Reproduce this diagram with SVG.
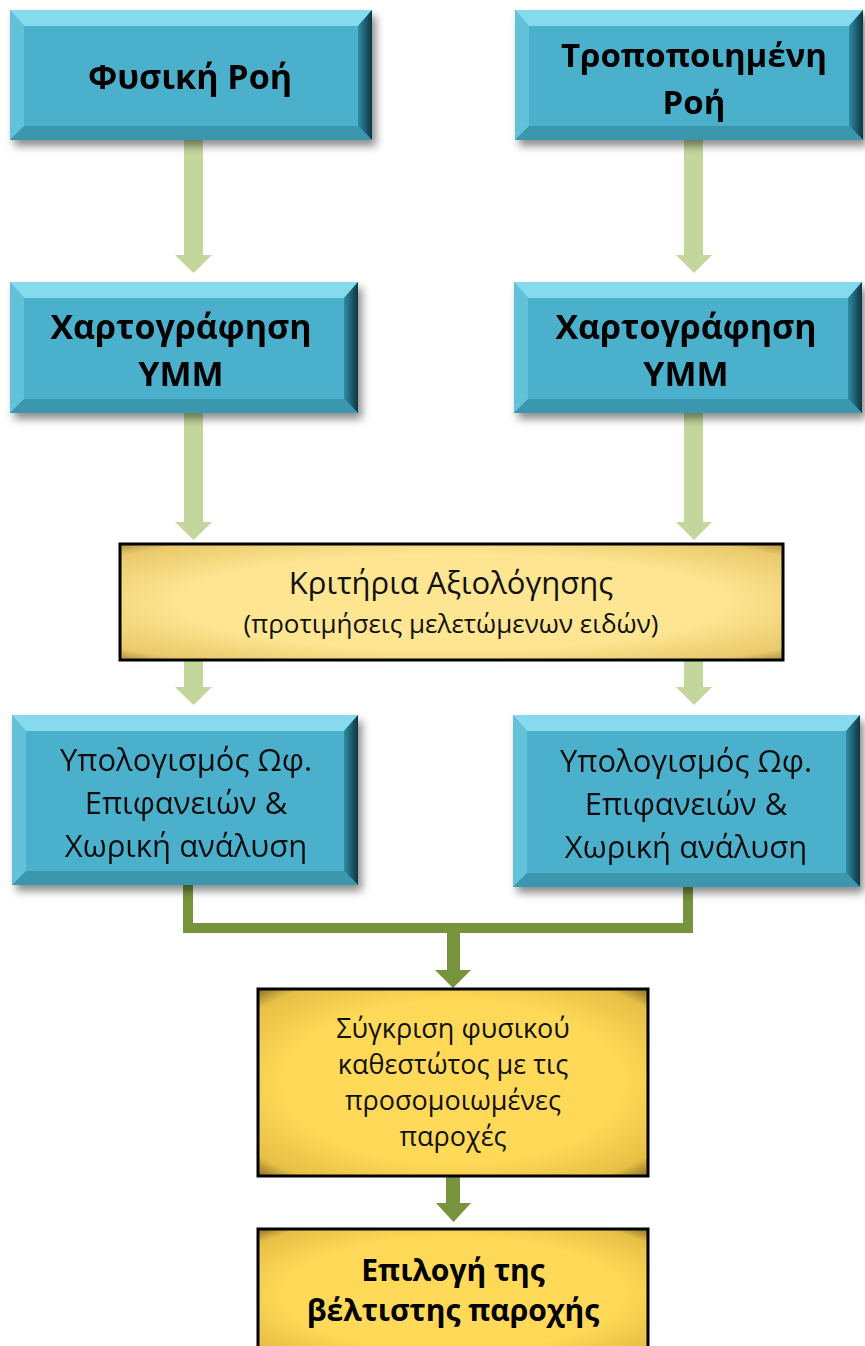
<svg xmlns="http://www.w3.org/2000/svg" width="865" height="1346" viewBox="0 0 865 1346">
<defs>
<style>
.face{fill:#4BB0CC}
.bt{fill:#86DAEE}
.bl{fill:#62C2DA}
.br{fill:url(#gr)}
.bb{fill:#3A97AE}
.tb{font-family:"Open Sans","Noto Sans",sans-serif;font-weight:bold;fill:#000;text-anchor:middle}
.tn{font-family:"Open Sans","Noto Sans",sans-serif;fill:#111;text-anchor:middle}
.la{fill:#C3D69B}
.da{fill:#77933C}
.dl{fill:none;stroke:#77933C;stroke-width:10}
.ybox{stroke:#000;stroke-width:3}
</style>
<linearGradient id="gr" x1="0" y1="0" x2="1" y2="0">
<stop offset="0" stop-color="#2F8CA3"/>
<stop offset="1" stop-color="#0E3440"/>
</linearGradient>
<radialGradient id="yg1" cx="0.5" cy="0.5" r="0.75">
<stop offset="0.55" stop-color="#FDE592"/>
<stop offset="0.85" stop-color="#E9C96A"/>
<stop offset="1" stop-color="#8A6F2A"/>
</radialGradient>
<radialGradient id="yg2" cx="0.5" cy="0.5" r="0.72">
<stop offset="0.6" stop-color="#FFD957"/>
<stop offset="0.88" stop-color="#E6BF45"/>
<stop offset="1" stop-color="#7A6020"/>
</radialGradient>
<filter id="sh" x="-10%" y="-10%" width="125%" height="130%">
<feDropShadow dx="4" dy="6" stdDeviation="4" flood-color="#000" flood-opacity="0.45"/>
</filter>
</defs>
<rect width="865" height="1346" fill="#fff"/>

<g id="connectors">
<rect class="la" x="184" y="140" width="19" height="116"/>
<polygon class="la" points="175,255 212,255 193.5,273"/>
<rect class="la" x="684" y="140" width="19" height="116"/>
<polygon class="la" points="676,255 712,255 694,273"/>
<rect class="la" x="184" y="413" width="19" height="110"/>
<polygon class="la" points="175,522 212,522 193.5,540"/>
<rect class="la" x="684" y="413" width="19" height="110"/>
<polygon class="la" points="676,522 712,522 694,540"/>
<rect class="la" x="184" y="660" width="19" height="28"/>
<polygon class="la" points="175,687 212,687 193.5,705"/>
<rect class="la" x="684" y="660" width="19" height="28"/>
<polygon class="la" points="676,687 712,687 694,705"/>
<path class="dl" d="M188,885 V928 H688 V887"/>
<rect class="da" x="447" y="928" width="13" height="43"/>
<polygon class="da" points="435,970 471,970 453,988"/>
<rect class="da" x="446" y="1176" width="14" height="28"/>
<polygon class="da" points="436,1203 471,1203 453.5,1222"/>
</g>

<g id="n1" filter="url(#sh)">
<rect class="face" x="10" y="10" width="362" height="130"/>
<polygon class="bt" points="10,10 372,10 358,26 24,26"/>
<polygon class="bl" points="10,10 24,26 24,126 10,140"/>
<polygon class="br" points="372,10 372,140 358,126 358,26"/>
<polygon class="bb" points="10,140 372,140 358,126 24,126"/>
<text class="tb" x="190" y="89" font-size="34">Φυσική Ροή</text>
</g>

<g id="n2" filter="url(#sh)">
<rect class="face" x="515" y="10" width="348" height="130"/>
<polygon class="bt" points="515,10 863,10 849,26 529,26"/>
<polygon class="bl" points="515,10 529,26 529,126 515,140"/>
<polygon class="br" points="863,10 863,140 849,126 849,26"/>
<polygon class="bb" points="515,140 863,140 849,126 529,126"/>
<text class="tb" x="694" y="67" font-size="33">Τροποποιημένη</text>
<text class="tb" x="694" y="114" font-size="33">Ροή</text>
</g>

<g id="n3" filter="url(#sh)">
<rect class="face" x="10" y="282" width="348" height="131"/>
<polygon class="bt" points="10,282 358,282 344,298 24,298"/>
<polygon class="bl" points="10,282 24,298 24,399 10,413"/>
<polygon class="br" points="358,282 358,413 344,399 344,298"/>
<polygon class="bb" points="10,413 358,413 344,399 24,399"/>
<text class="tb" x="181" y="339" font-size="34">Χαρτογράφηση</text>
<text class="tb" x="181" y="386" font-size="34">ΥΜΜ</text>
</g>

<g id="n4" filter="url(#sh)">
<rect class="face" x="514" y="282" width="348" height="131"/>
<polygon class="bt" points="514,282 862,282 848,298 528,298"/>
<polygon class="bl" points="514,282 528,298 528,399 514,413"/>
<polygon class="br" points="862,282 862,413 848,399 848,298"/>
<polygon class="bb" points="514,413 862,413 848,399 528,399"/>
<text class="tb" x="686" y="339" font-size="34">Χαρτογράφηση</text>
<text class="tb" x="686" y="386" font-size="34">ΥΜΜ</text>
</g>

<g id="n5">
<rect class="ybox" x="120" y="544" width="663" height="116" fill="url(#yg1)"/>
<text class="tn" x="451" y="594" font-size="31">Κριτήρια Αξιολόγησης</text>
<text class="tn" x="451" y="633" font-size="26">(προτιμήσεις μελετώμενων ειδών)</text>
</g>

<g id="n6" filter="url(#sh)">
<rect class="face" x="12" y="715" width="346" height="170"/>
<polygon class="bt" points="12,715 358,715 344,731 26,731"/>
<polygon class="bl" points="12,715 26,731 26,871 12,885"/>
<polygon class="br" points="358,715 358,885 344,871 344,731"/>
<polygon class="bb" points="12,885 358,885 344,871 26,871"/>
<text class="tn" x="186" y="771" font-size="31">Υπολογισμός Ωφ.</text>
<text class="tn" x="186" y="814" font-size="31">Επιφανειών &amp;</text>
<text class="tn" x="186" y="857" font-size="31">Χωρική ανάλυση</text>
</g>

<g id="n7" filter="url(#sh)">
<rect class="face" x="513" y="715" width="347" height="172"/>
<polygon class="bt" points="513,715 860,715 846,731 527,731"/>
<polygon class="bl" points="513,715 527,731 527,873 513,887"/>
<polygon class="br" points="860,715 860,887 846,873 846,731"/>
<polygon class="bb" points="513,887 860,887 846,873 527,873"/>
<text class="tn" x="686" y="772" font-size="31">Υπολογισμός Ωφ.</text>
<text class="tn" x="686" y="815" font-size="31">Επιφανειών &amp;</text>
<text class="tn" x="686" y="858" font-size="31">Χωρική ανάλυση</text>
</g>

<g id="n8">
<rect class="ybox" x="258" y="989" width="390" height="187" fill="url(#yg2)"/>
<text class="tn" x="453" y="1038" font-size="27">Σύγκριση φυσικού</text>
<text class="tn" x="453" y="1074" font-size="27">καθεστώτος με τις</text>
<text class="tn" x="453" y="1110" font-size="27">προσομοιωμένες</text>
<text class="tn" x="453" y="1146" font-size="27">παροχές</text>
</g>

<g id="n9">
<rect class="ybox" x="258" y="1229" width="390" height="130" fill="url(#yg2)"/>
<text class="tb" x="453" y="1281" font-size="30">Επιλογή της</text>
<text class="tb" x="453" y="1321" font-size="30">βέλτιστης παροχής</text>
</g>
</svg>
